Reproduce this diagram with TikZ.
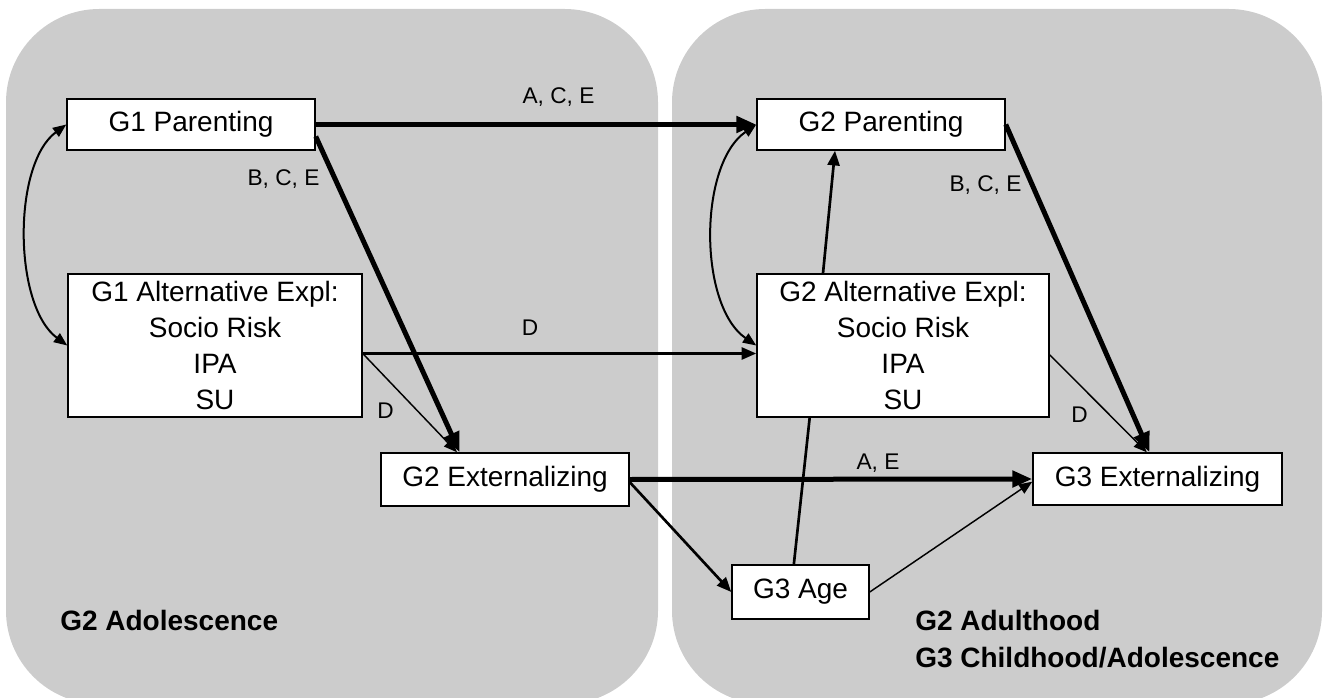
\documentclass[tikz,border=0pt]{standalone}
\usepackage{fontspec}
\setmainfont{Liberation Sans}
\usepackage{tikz}
\usetikzlibrary{arrows.meta}

\begin{document}
\begin{tikzpicture}[x=0.75pt,y=-0.75pt,
        box/.style={draw,fill=white,line width=1.1pt,inner sep=0pt,align=center,font=\fontsize{21}{27}\selectfont},
        lbl/.style={inner sep=0pt,font=\fontsize{17}{20}\selectfont},
        ttl/.style={inner sep=0pt,anchor=base west,font=\fontsize{21}{26}\selectfont\bfseries},
        heavyarr/.style={line width=3.75pt,-{Triangle[length=15pt,width=12pt]}},
        midarr/.style={line width=2pt,-{Triangle[length=11pt,width=9pt]}},
        slimarr/.style={line width=1.1pt,-{Triangle[length=10pt,width=8pt]}},
        curvarr/.style={line width=1.5pt,{Triangle[length=10pt,width=8pt]}-{Triangle[length=10pt,width=8pt]}}]
        \useasboundingbox (0,0) rectangle (1326,698);
        \foreach \xa/\xb in {6/658, 672/1322}
        \fill[gray!40,rounded corners=70pt] (\xa,9) rectangle (\xb,704);
        \node[box,minimum width=186pt,minimum height=38.25pt] (g1par) at (191,124.5) {G1 Parenting};
        \node[box,minimum width=220.5pt,minimum height=107.25pt] (g1alt) at (215,345.5) {G1 Alternative Expl:\\Socio Risk\\IPA\\SU};
        \node[box,minimum width=186pt,minimum height=39.75pt] (g2ext) at (505,479.5) {G2 Externalizing};
        \node[box,minimum width=186pt,minimum height=38.25pt] (g2par) at (881,124.5) {G2 Parenting};
        \node[box,minimum width=219pt,minimum height=107.25pt] (g2alt) at (903,345.5) {G2 Alternative Expl:\\Socio Risk\\IPA\\SU};
        \node[box,minimum width=186.75pt,minimum height=39pt] (g3ext) at (1157.5,479) {G3 Externalizing};
        \node[box,minimum width=102.75pt,minimum height=40.5pt] (g3age) at (800.5,592) {G3 Age};
        \draw[heavyarr] (g1par.east) -- (g2par.west);
        \draw[heavyarr] ([yshift=-9pt]g1par.east) -- ([xshift=-34pt]g2ext.north);
        \draw[midarr] ([yshift=-6pt]g1alt.east) -- ([yshift=-6pt]g2alt.west);
        \draw[slimarr] ([yshift=-6pt]g1alt.east) -- ([xshift=-36pt]g2ext.north);
        \draw[curvarr] (g1par.west) .. controls +(-54,40) and +(-54,-40) .. (g1alt.west);
        \draw[curvarr] (g2par.west) .. controls +(-58,40) and +(-58,-40) .. (g2alt.west);
        \draw[midarr] ([xshift=-60pt]g2alt.north) -- ([xshift=-34.5pt]g2par.south);
        \draw[line width=2pt] ([xshift=-70pt]g2alt.south) -- ([xshift=-5pt]g3age.north);
        \draw[heavyarr] (g2ext.east) -- (g3ext.west);
        \draw[midarr] ([yshift=-2pt]g2ext.east) -- (g3age.west);
        \draw[slimarr] (g3age.east) -- ([yshift=-2pt]g3ext.west);
        \draw[heavyarr] (g2par.east) -- ([xshift=-6pt]g3ext.north);
        \draw[slimarr] ([yshift=-7pt]g2alt.east) -- ([xshift=-8pt]g3ext.north);
        \node[lbl] (lace) at (558.5,97.5) {A, C, E};
        \node[lbl] (lbce1) at (283.5,179.5) {B, C, E};
        \node[lbl] (ld1) at (530,327.5) {D};
        \node[lbl] (ld2) at (385.5,411) {D};
        \node[lbl] (lae) at (878,463) {A, E};
        \node[lbl] (lbce2) at (985.5,185.5) {B, C, E};
        \node[lbl] (ld3) at (1079.5,415) {D};
        \node[ttl] (tadol) at (60,630) {G2 Adolescence};
        \node[ttl] (tadult) at (915,630) {G2 Adulthood};
        \node[ttl] (tchild) at (915,667) {G3 Childhood/Adolescence};
      \end{tikzpicture}
\end{document}
